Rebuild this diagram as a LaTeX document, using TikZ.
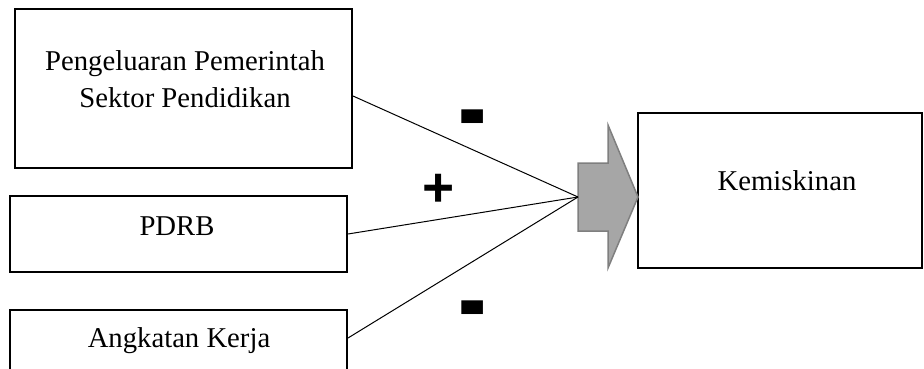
\documentclass[tikz,border=0pt]{standalone}
\usepackage{fontspec}
\usepackage{graphicx}
\setmainfont{Liberation Serif}
\setsansfont{Liberation Sans}
\definecolor{arrowfill}{HTML}{A6A6A6}
\definecolor{arrowline}{HTML}{7F7F7F}
\begin{document}
\begin{tikzpicture}[x=1pt,y=-1pt,
  box/.style={draw=black,line width=2pt,inner sep=0pt},
  lbl/.style={font=\fontsize{28.7}{37}\selectfont,inner sep=0pt},
  sign/.style={font=\fontsize{50}{50}\selectfont\sffamily\bfseries,inner sep=0pt},
  conn/.style={draw=black,line width=1pt}]
\useasboundingbox (0,0) rectangle (924,369);
% boxes
\node[box,minimum width=337pt,minimum height=159pt] (b1) at (183.5,88.5) {};
\node[box,minimum width=337pt,minimum height=76pt] (b2) at (178.5,234) {};
\node[box,minimum width=337pt,minimum height=62pt] (b3) at (178.5,341) {};
\node[box,minimum width=284pt,minimum height=155pt] (b4) at (780,190.5) {};
% texts
\node[lbl,align=center] (t1) at (185,79) {Pengeluaran Pemerintah\\Sektor Pendidikan};
\node[lbl,anchor=base] (t2) at (177,235) {PDRB};
\node[lbl,anchor=base] (t3) at (179,347) {Angkatan Kerja};
\node[lbl,anchor=base] (t4) at (787,190) {Kemiskinan};
% block arrow
\draw[fill=arrowfill,draw=arrowline,line width=1.5pt,line join=miter]
  (578,163) -- (608,163) -- (608,125) -- (638,197) -- (608,268) -- (608,231) -- (578,231) -- cycle;
\coordinate (conv) at (578,197);
% connectors
\draw[conn] ([yshift=-7.5pt]b1.east) -- (conv);
\draw[conn] (b2.east) -- (conv);
\draw[conn] ([yshift=3pt]b3.east) -- (conv);
% signs
\node[sign] (m1) at (472.5,128) {\scalebox{1.7}[2.3]{-}};
\node[sign] (p1) at (438.5,190) {\scalebox{1.1}{+}};
\node[sign] (m2) at (472.5,319.5) {\scalebox{1.7}[2.3]{-}};
\end{tikzpicture}
\end{document}
